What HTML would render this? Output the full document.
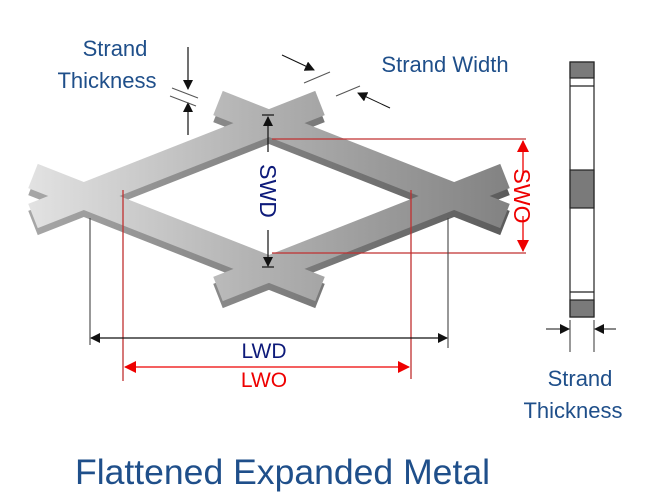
<!DOCTYPE html>
<html><head><meta charset="utf-8"><style>
html,body{margin:0;padding:0;background:#fff;}
svg{display:block;}
text{font-family:"Liberation Sans",sans-serif;}
</style></head><body>
<svg width="650" height="493" viewBox="0 0 650 493" xmlns="http://www.w3.org/2000/svg">
<defs>
<linearGradient id="face" gradientUnits="userSpaceOnUse" x1="20" y1="0" x2="520" y2="0">
<stop offset="0" stop-color="#e4e4e4"/><stop offset="0.45" stop-color="#b4b4b4"/><stop offset="1" stop-color="#808080"/>
</linearGradient>
<linearGradient id="side" gradientUnits="userSpaceOnUse" x1="20" y1="0" x2="520" y2="0">
<stop offset="0" stop-color="#a8a8a8"/><stop offset="1" stop-color="#5a5a5a"/>
</linearGradient>
<marker id="ab" markerWidth="10" markerHeight="10" refX="9" refY="5" orient="auto" markerUnits="userSpaceOnUse"><path d="M0,0 L10,5 L0,10 z" fill="#111"/></marker>
<marker id="ar" markerWidth="12" markerHeight="12" refX="11" refY="6" orient="auto" markerUnits="userSpaceOnUse"><path d="M0,0 L12,6 L0,12 z" fill="#e00"/></marker>
</defs>

<g stroke="url(#side)" stroke-width="26" fill="none" transform="translate(0,7)">
<line x1="33" y1="216" x2="320" y2="103"/>
<line x1="33" y1="176" x2="320" y2="289"/>
<line x1="218" y1="103" x2="505" y2="216"/>
<line x1="218" y1="289" x2="505" y2="176"/>
</g>
<g stroke="url(#face)" stroke-width="26" fill="none">
<line x1="33" y1="216" x2="320" y2="103"/>
<line x1="33" y1="176" x2="320" y2="289"/>
<line x1="218" y1="103" x2="505" y2="216"/>
<line x1="218" y1="289" x2="505" y2="176"/>
</g>

<text x="115" y="56" font-size="22" fill="#1f4f8a" text-anchor="middle">Strand</text>
<text x="107" y="88" font-size="22" fill="#1f4f8a" text-anchor="middle">Thickness</text>
<line x1="188" y1="47" x2="188" y2="89" stroke="#111" stroke-width="1.2" marker-end="url(#ab)"/>
<line x1="188" y1="135" x2="188" y2="103" stroke="#111" stroke-width="1.2" marker-end="url(#ab)"/>
<line x1="172" y1="88" x2="198" y2="98" stroke="#555" stroke-width="1"/>
<line x1="170" y1="96" x2="196" y2="106" stroke="#555" stroke-width="1"/>

<text x="445" y="72" font-size="22" fill="#1f4f8a" text-anchor="middle">Strand Width</text>
<line x1="282" y1="55" x2="314" y2="70" stroke="#111" stroke-width="1" marker-end="url(#ab)"/>
<line x1="304" y1="83" x2="330" y2="72" stroke="#555" stroke-width="1"/>
<line x1="336" y1="96" x2="360" y2="86" stroke="#555" stroke-width="1"/>
<line x1="390" y1="108" x2="358" y2="93" stroke="#111" stroke-width="1" marker-end="url(#ab)"/>

<g stroke="#c03030" stroke-width="1.3" fill="none">
<line x1="272" y1="139" x2="526" y2="139"/>
<line x1="272" y1="253" x2="526" y2="253"/>
<line x1="123" y1="190" x2="123" y2="381"/>
<line x1="411" y1="190" x2="411" y2="379"/>
</g>
<line x1="523" y1="176" x2="523" y2="141" stroke="#e00" stroke-width="1.3" marker-end="url(#ar)"/>
<line x1="523" y1="216" x2="523" y2="251" stroke="#e00" stroke-width="1.3" marker-end="url(#ar)"/>
<text x="0" y="0" font-size="23" fill="#e00" text-anchor="middle" transform="translate(514,196) rotate(90)">SWO</text>
<line x1="260" y1="367" x2="125" y2="367" stroke="#e00" stroke-width="1.3" marker-end="url(#ar)"/>
<line x1="260" y1="367" x2="409" y2="367" stroke="#e00" stroke-width="1.3" marker-end="url(#ar)"/>
<text x="264" y="387" font-size="21" fill="#e00" text-anchor="middle">LWO</text>

<g stroke="#444" stroke-width="1.1">
<line x1="90" y1="218" x2="90" y2="345"/>
<line x1="448" y1="218" x2="448" y2="348"/>
</g>
<line x1="260" y1="338" x2="91" y2="338" stroke="#111" stroke-width="1.2" marker-end="url(#ab)"/>
<line x1="260" y1="338" x2="447" y2="338" stroke="#111" stroke-width="1.2" marker-end="url(#ab)"/>
<text x="264" y="358" font-size="21" fill="#0d1a7a" text-anchor="middle">LWD</text>

<line x1="268" y1="152" x2="268" y2="117" stroke="#111" stroke-width="1.2" marker-end="url(#ab)"/>
<line x1="268" y1="230" x2="268" y2="266" stroke="#111" stroke-width="1.2" marker-end="url(#ab)"/>
<line x1="262" y1="115" x2="274" y2="115" stroke="#111" stroke-width="1.2"/>
<line x1="262" y1="267" x2="274" y2="267" stroke="#111" stroke-width="1.2"/>
<text x="0" y="0" font-size="23" fill="#0d1a7a" text-anchor="middle" transform="translate(260,191) rotate(90)">SWD</text>

<rect x="570" y="62" width="24" height="255" fill="#fff" stroke="#222" stroke-width="1.2"/>
<rect x="570" y="62" width="24" height="16" fill="#7a7a7a" stroke="#222" stroke-width="1.2"/>
<line x1="570" y1="86" x2="594" y2="86" stroke="#222" stroke-width="1.2"/>
<rect x="570" y="170" width="24" height="38" fill="#7a7a7a" stroke="#222" stroke-width="1.2"/>
<line x1="570" y1="292" x2="594" y2="292" stroke="#222" stroke-width="1.2"/>
<rect x="570" y="300" width="24" height="17" fill="#7a7a7a" stroke="#222" stroke-width="1.2"/>
<line x1="570" y1="320" x2="570" y2="352" stroke="#333" stroke-width="1"/>
<line x1="594" y1="320" x2="594" y2="352" stroke="#333" stroke-width="1"/>
<line x1="546" y1="329" x2="569" y2="329" stroke="#111" stroke-width="1" marker-end="url(#ab)"/>
<line x1="616" y1="329" x2="595" y2="329" stroke="#111" stroke-width="1" marker-end="url(#ab)"/>
<text x="580" y="386" font-size="22" fill="#1f4f8a" text-anchor="middle">Strand</text>
<text x="573" y="418" font-size="22" fill="#1f4f8a" text-anchor="middle">Thickness</text>

<text x="75" y="484" font-size="35" fill="#1f4f8a" textLength="415" lengthAdjust="spacingAndGlyphs">Flattened Expanded Metal</text>
</svg>
</body></html>
